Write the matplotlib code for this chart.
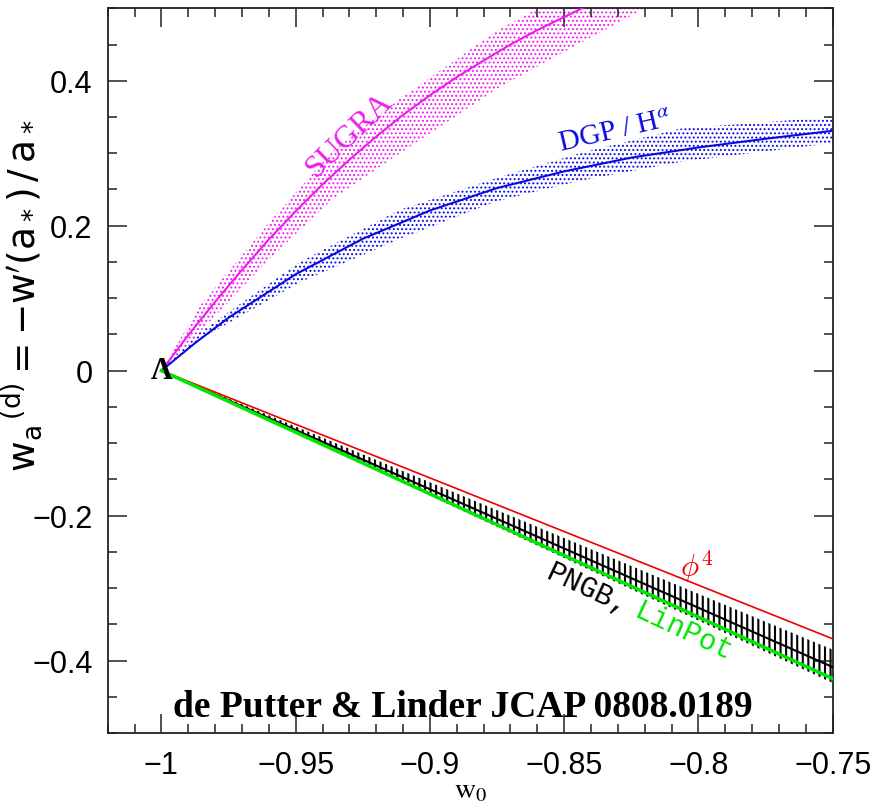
import matplotlib.pyplot as plt
import numpy as np

# SUGRA track (centre line and dotted band)
sugra_w0 = [-1.0, -0.99, -0.98, -0.97, -0.96, -0.95, -0.94, -0.93, -0.92, -0.91,
            -0.90, -0.89, -0.88, -0.87, -0.86, -0.85, -0.84, -0.83]
sugra_wa = [0.0, 0.049, 0.095, 0.139, 0.181, 0.220, 0.257, 0.291, 0.323, 0.353,
            0.380, 0.405, 0.428, 0.450, 0.470, 0.488, 0.506, 0.523]
sugra_band_w0 = [-1.0, -0.9857, -0.9609, -0.9362, -0.9112, -0.875, -0.85, -0.82]
sugra_hi = [0.0, 0.089, 0.200, 0.303, 0.375, 0.469, 0.52, 0.58]
sugra_lo = [0.0, 0.053, 0.150, 0.237, 0.300, 0.389, 0.44, 0.50]

# DGP / H^alpha
dgp_w0 = [-1.0, -0.9875, -0.975, -0.95, -0.925, -0.90, -0.875, -0.85, -0.825, -0.80, -0.775, -0.75]
dgp_wa = [0.0, 0.038, 0.073, 0.133, 0.182, 0.221, 0.252, 0.275, 0.294, 0.308, 0.320, 0.331]
dgp_band_w0 = [-1.0, -0.9857, -0.9484, -0.9112, -0.875, -0.8442, -0.8069, -0.75]
dgp_hi = [0.0, 0.053, 0.150, 0.222, 0.266, 0.300, 0.334, 0.350]
dgp_lo = [0.0, 0.043, 0.122, 0.182, 0.234, 0.262, 0.288, 0.314]

# thawing lines
lin_w0 = [-1.0, -0.75]
phi4_wa = [0.0, -0.370]
linpot_wa = [0.0, -0.425]
pngb_wa = [0.0, -0.409]
pngb_hi = [0.0, -0.385]
pngb_lo = [0.0, -0.431]

xticks = [-1, -0.95, -0.9, -0.85, -0.8, -0.75]
xticklabels = ['\u22121', '\u22120.95', '\u22120.9', '\u22120.85', '\u22120.8', '\u22120.75']
yticks = [-0.4, -0.2, 0, 0.2, 0.4]
yticklabels = ['\u22120.4', '\u22120.2', '0', '0.2', '0.4']

magenta = '#ee1cee'
blue = '#0a0ae0'
red = '#ee0000'
green = '#00e600'

fig = plt.figure(figsize=(8.87, 8.03), dpi=100)
ax = fig.add_axes([0.1214, 0.0859, 0.8174, 0.9025])

plt.rcParams['hatch.linewidth'] = 0.9
ax.fill_between(sugra_band_w0, sugra_lo, sugra_hi, facecolor='none', edgecolor=magenta, hatch='....', linewidth=0, zorder=1)
ax.fill_between(dgp_band_w0, dgp_lo, dgp_hi, facecolor='none', edgecolor=blue, hatch='....', linewidth=0, zorder=1)
plt.rcParams['hatch.linewidth'] = 1.5
ax.fill_between(lin_w0, pngb_lo, pngb_hi, facecolor='none', edgecolor='black', hatch='|||', linewidth=0, zorder=1)

ax.plot(sugra_w0, sugra_wa, color=magenta, lw=1.5, zorder=3)
ax.plot(dgp_w0, dgp_wa, color=blue, lw=1.5, zorder=3)
ax.plot(lin_w0, pngb_wa, color='black', lw=1.5, zorder=3)
ax.plot(lin_w0, phi4_wa, color=red, lw=1.2, zorder=3)
ax.plot(lin_w0, linpot_wa, color=green, lw=2.5, zorder=3)

ax.set_xlim(-1.02, -0.75)
ax.set_ylim(-0.5, 0.5)
ax.set_xticks(xticks)
ax.set_xticklabels(xticklabels, family='Liberation Sans', fontsize=22)
ax.set_yticks(yticks)
ax.set_yticklabels(yticklabels, family='Liberation Sans', fontsize=22)
ax.set_xticks(np.arange(-1.02, -0.749, 0.01), minor=True)
ax.set_yticks(np.arange(-0.5, 0.501, 0.05), minor=True)
ax.tick_params(which='both', direction='in', top=True, right=True, width=1.1, color='#222222')
ax.tick_params(which='major', length=13.5)
ax.tick_params(which='minor', length=6.5)
ax.tick_params(axis='x', which='major', pad=12)
ax.tick_params(axis='y', which='major', pad=11)
for s in ax.spines.values():
    s.set_linewidth(1.3)
    s.set_color('#222222')

ax.set_xlabel(r'$\mathrm{w_0}$', fontsize=21, math_fontfamily='stix')
ax.xaxis.set_label_coords(0.5, -0.058)
ax.set_ylabel(r'$\mathrm{w_a}^{\,(\mathrm{d})} = -\mathrm{w}^{\prime}(\mathrm{a_*})\,/\,\mathrm{a_*}$', fontsize=27)
ax.yaxis.set_label_coords(-0.088, 0.605)

ax.text(-0.9298, 0.3265, 'SUGRA', color=magenta, family='Liberation Serif', fontsize=23,
        rotation=44, rotation_mode='anchor', ha='center', va='center')
ax.text(-0.8311, 0.3306, r'DGP / H$^{\alpha}$', color=blue, family='Liberation Serif', fontsize=21,
        math_fontfamily='stix', rotation=13, rotation_mode='anchor', ha='center', va='center')
ax.text(-0.8004, -0.2694, r'$\phi^4$', color=red, fontsize=22, math_fontfamily='cm',
        ha='center', va='center')
ax.text(-0.841, -0.301, 'PNGB,', color='black', family='Liberation Mono', fontsize=21,
        rotation=-25, rotation_mode='anchor', ha='center', va='center')
ax.text(-0.8057, -0.3591, 'LinPot', color=green, family='Liberation Mono', fontsize=21,
        rotation=-25, rotation_mode='anchor', ha='center', va='center')
ax.text(-1.0, 0.0, '\u039b', color='black', family='Liberation Serif', fontweight='bold',
        fontsize=22, ha='center', va='center', zorder=4)
ax.text(-0.8876, -0.4759, 'de Putter & Linder JCAP 0808.0189', color='black',
        family='Liberation Serif', fontweight='bold', fontsize=27, ha='center', va='baseline')

fig.savefig('out.png', dpi=100)
